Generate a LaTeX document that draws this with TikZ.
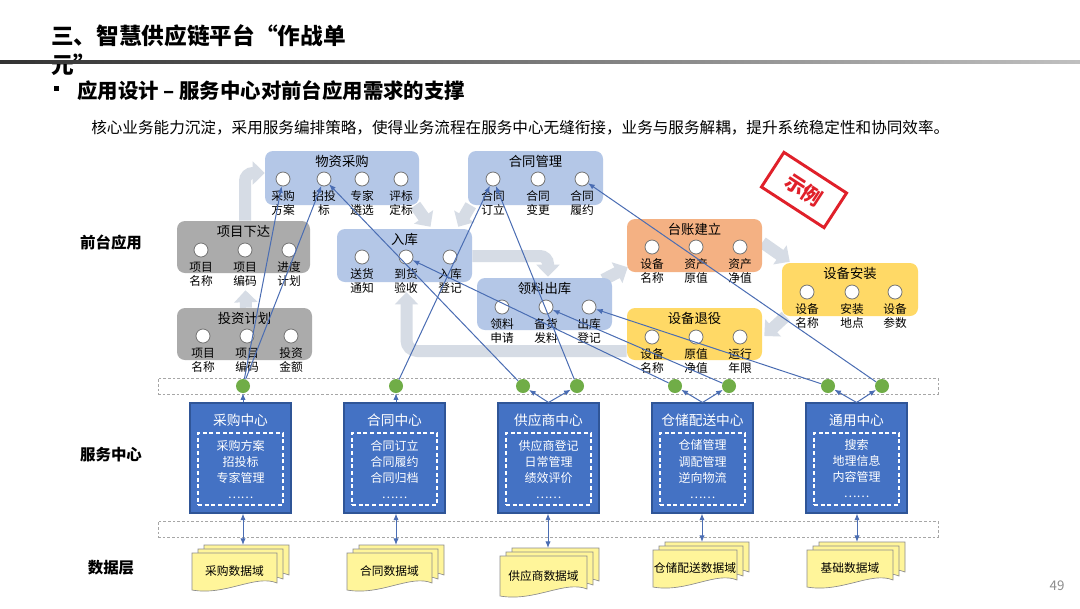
\documentclass[tikz,border=0pt]{standalone}
\usepackage{fontspec}
\setmainfont{Noto Sans CJK SC}
\usetikzlibrary{arrows.meta,calc,fit,backgrounds}

\definecolor{lblue}{HTML}{B4C7E7}
\definecolor{lgray}{HTML}{ABABAB}
\definecolor{lorange}{HTML}{F4B183}
\definecolor{lyellow}{HTML}{FFD966}
\definecolor{sblue}{HTML}{4472C4}
\definecolor{sborder}{HTML}{2F5597}
\definecolor{gdot}{HTML}{70AD47}
\definecolor{bgarr}{HTML}{D6DCE5}
\definecolor{conncol}{HTML}{4A6DB3}
\definecolor{docfill}{HTML}{FFF59A}
\definecolor{stampred}{HTML}{E0202A}

\tikzset{
  appbox/.style={rounded corners=6pt, draw=none, inner sep=0pt},
  boxtitle/.style={font=\fontsize{10}{12}\selectfont, inner sep=0pt},
  itemcirc/.style={circle, draw=black!55, fill=white, line width=0.6pt, minimum size=10.5pt, inner sep=0pt},
  itemlab/.style={font=\fontsize{8.8}{10.5}\selectfont, align=center, inner sep=0pt},
  gdotst/.style={circle, fill=gdot, minimum size=10.5pt, inner sep=0pt},
  bandst/.style={draw=black!35, dash pattern=on 2pt off 1.5pt, line width=0.6pt, inner sep=0pt},
  svcbox/.style={fill=sblue, draw=sborder, line width=0.8pt, inner sep=0pt},
  svcinner/.style={draw=white, dash pattern=on 3pt off 2pt, line width=0.8pt, inner sep=0pt},
  svctitle/.style={text=white, font=\fontsize{10.3}{12}\selectfont, inner sep=0pt},
  svcitems/.style={text=white, align=center, font=\fontsize{9}{12}\selectfont, inner sep=0pt},
  docst/.style={fill=docfill, draw=black!45, line width=0.5pt},
  doctext/.style={font=\fontsize{8.8}{10}\selectfont, inner sep=0pt},
  conn/.style={draw=conncol, line width=0.75pt, -{Latex[length=5pt,width=4pt]}},
  connboth/.style={draw=conncol, line width=0.75pt, {Latex[length=5pt,width=4pt]}-{Latex[length=5pt,width=4pt]}},
  bgarrowst/.style={draw=bgarr, line width=9pt, -{Triangle[length=9pt,width=17pt]}},
  sidelab/.style={font=\fontsize{11.6}{13}\selectfont\bfseries, inner sep=0pt},
}

\newcommand\AppBox[7]{%
  \node[appbox, fill=#6, fit={(#2,#3) (#4,#5)}] (#1) {};
  \node[boxtitle] (#1-t) at ({(#2+#4)/2},#3+10) {#7};
}
\newcommand\AppItem[5]{%
  \node[itemcirc] (#1) at (#2,#3) {};
  \node[itemlab] (#1-l) at (#2,#3+24) {#4\\#5};
}
\newcommand\SvcBox[4]{%
  \node[svcbox, fit={(#2,403) (#2+101,513)}] (#1) {};
  \node[svctitle] (#1-t) at (#2+50.5,420) {#3};
  \node[svcinner, fit={(#2+8,433) (#2+93,505)}] (#1-i) {};
  \node[svcitems] (#1-x) at (#2+50.5,469) {#4};
}
\newcommand\DocSheet[4]{%
  \filldraw[docst] (#1,#2) -- ({#1+#3},#2) -- ({#1+#3},{#2+#4-7})
    .. controls ({#1+0.75*#3},{#2+#4-16}) and ({#1+0.4*#3},{#2+#4+6}) .. (#1,{#2+#4}) -- cycle;
}
\newcommand\DataDoc[6]{%
  \DocSheet{#2+12}{#3-8}{#4}{#5}
  \DocSheet{#2+6}{#3-4}{#4}{#5}
  \DocSheet{#2}{#3}{#4}{#5}
  \node[doctext] (#1) at ({#2+#4/2},{#3+#5/2}) {#6};
}

\begin{document}
\begin{tikzpicture}[x=0.75pt,y=-0.75pt]
\useasboundingbox (0,0) rectangle (1080,608);

% ---------- header ----------
\node[anchor=west, font=\fontsize{17}{20}\selectfont\bfseries, inner sep=0pt] (title1) at (51,36) {三、智慧供应链平台“作战单};
\node[anchor=west, font=\fontsize{17}{20}\selectfont\bfseries, inner sep=0pt] (title2) at (51,65) {元”};
\shade[left color=black!80, right color=black!25] (0,60.5) rectangle (1080,63.5);
\fill (54,86) rectangle (59,91);
\node[anchor=west, font=\fontsize{15.3}{18}\selectfont\bfseries, inner sep=0pt] (subtitle) at (77,91) {应用设计 – 服务中心对前台应用需求的支撑};
\node[anchor=west, font=\fontsize{11.7}{14}\selectfont, inner sep=0pt] (desc) at (91,128) {核心业务能力沉淀，采用服务编排策略，使得业务流程在服务中心无缝衔接，业务与服务解耦，提升系统稳定性和协同效率。};

% ---------- front applications ----------
\AppBox{wzcg}{265}{151}{419}{205}{lblue}{物资采购}
\AppItem{wz1}{283}{179}{采购}{方案}
\AppItem{wz2}{324}{179}{招投}{标}
\AppItem{wz3}{362}{179}{专家}{遴选}
\AppItem{wz4}{401}{179}{评标}{定标}

\AppBox{htgl}{468}{151}{603}{205}{lblue}{合同管理}
\AppItem{ht1}{493}{179}{合同}{订立}
\AppItem{ht2}{538}{179}{合同}{变更}
\AppItem{ht3}{582}{179}{合同}{履约}

\AppBox{xmxd}{177}{221}{310}{273}{lgray}{项目下达}
\AppItem{xm1}{201}{250}{项目}{名称}
\AppItem{xm2}{245}{250}{项目}{编码}
\AppItem{xm3}{289}{250}{进度}{计划}

\AppBox{tzjh}{177}{308}{312}{360}{lgray}{投资计划}
\AppItem{tz1}{203}{336}{项目}{名称}
\AppItem{tz2}{247}{336}{项目}{编码}
\AppItem{tz3}{291}{336}{投资}{金额}

\AppBox{ruku}{337}{229}{472}{282}{lblue}{入库}
\AppItem{rk1}{362}{257}{送货}{通知}
\AppItem{rk2}{406}{257}{到货}{验收}
\AppItem{rk3}{450}{257}{入库}{登记}

\AppBox{llck}{477}{278}{612}{330}{lblue}{领料出库}
\AppItem{ll1}{502}{307}{领料}{申请}
\AppItem{ll2}{546}{307}{备货}{发料}
\AppItem{ll3}{589}{307}{出库}{登记}

\AppBox{tzjl}{627}{219}{762}{272}{lorange}{台账建立}
\AppItem{tj1}{652}{247}{设备}{名称}
\AppItem{tj2}{696}{247}{资产}{原值}
\AppItem{tj3}{740}{247}{资产}{净值}

\AppBox{sbty}{627}{308}{762}{360}{lyellow}{设备退役}
\AppItem{ty1}{652}{337}{设备}{名称}
\AppItem{ty2}{696}{337}{原值}{净值}
\AppItem{ty3}{740}{337}{运行}{年限}

\AppBox{sbaz}{782}{263}{918}{316}{lyellow}{设备安装}
\AppItem{az1}{807}{292}{设备}{名称}
\AppItem{az2}{852}{292}{安装}{地点}
\AppItem{az3}{895}{292}{设备}{参数}

% ---------- background flow arrows ----------
\begin{pgfonlayer}{background}
\fill[white] (0,0) rectangle (1080,608);
\draw[bgarrowst, rounded corners=6pt] (xmxd.north -| 245,0) |- (wzcg.west |- 0,173);
\draw[bgarrowst] (tzjh.north -| 246,0) -- ($(xmxd.south)+(2,17)$);
\draw[bgarrowst] ($(wzcg.south east)+(-4,0)$) -- ($(ruku.north)+(26,-2)$);
\draw[bgarrowst] ($(htgl.south west)+(3,0)$) -- ($(ruku.north east)+(-14,-2)$);
\draw[bgarrowst, rounded corners=6pt] (ruku.east |- 0,256) -| ($(llck.north)+(3.5,-1)$);
\draw[bgarrowst] ($(llck.north east)+(-9,2)$) -- ($(tzjl.south west)+(1,-5)$);
\draw[bgarrowst] ($(tzjl.east)+(0,-3)$) -- ($(sbaz.north west)+(8,-1)$);
\draw[bgarrowst] ($(sbaz.south west)+(4,0)$) -- ($(sbty.east)+(2,2)$);
\draw[bgarrowst, rounded corners=8pt] ($(sbty.west)+(0,17)$) -| ($(ruku.south)+(2,10)$);
\end{pgfonlayer}

% ---------- bands ----------
\node[bandst, fit={(158,378) (938,394)}] (band1) {};
\node[bandst, fit={(158,521) (938,537)}] (band2) {};

% ---------- service centres ----------
\SvcBox{b1}{190}{采购中心}{采购方案\\招投标\\专家管理\\……}
\SvcBox{b2}{344}{合同中心}{合同订立\\合同履约\\合同归档\\……}
\SvcBox{b3}{498}{供应商中心}{供应商登记\\日常管理\\绩效评价\\……}
\SvcBox{b4}{652}{仓储配送中心}{仓储管理\\调配管理\\逆向物流\\……}
\SvcBox{b5}{806}{通用中心}{搜索\\地理信息\\内容管理\\……}

% ---------- data domains ----------
\DataDoc{dd1}{192}{553}{85}{37}{采购数据域}
\DataDoc{dd2}{347}{553}{85}{37}{合同数据域}
\DataDoc{dd3}{500}{556}{87}{40}{供应商数据域}
\DataDoc{dd4}{653}{550}{84}{37}{仓储配送数据域}
\DataDoc{dd5}{807}{550}{86}{37}{基础数据域}
\coordinate (d1) at (243,545);
\coordinate (d2) at (396,545);
\coordinate (d3) at (548,548);
\coordinate (d4) at (702,542);
\coordinate (d5) at (857,542);
\foreach \i in {1,...,5} { \draw[connboth] (b\i.south -| d\i) -- (d\i); }

% ---------- green dots ----------
\node[gdotst] (g1) at (243,386) {};
\node[gdotst] (g2) at (396,386) {};
\node[gdotst] (g3) at (523,386) {};
\node[gdotst] (g4) at (577,386) {};
\node[gdotst] (g5) at (675,386) {};
\node[gdotst] (g6) at (729,386) {};
\node[gdotst] (g7) at (828,386) {};
\node[gdotst] (g8) at (882,386) {};

\draw[conn] (b1.north -| g1) -- (g1);
\draw[conn] (b2.north -| g2) -- (g2);
\draw[conn] (b3.north) -- (g3);
\draw[conn] (b3.north) -- (g4);
\draw[conn] (b4.north) -- (g5);
\draw[conn] (b4.north) -- (g6);
\draw[conn] (b5.north) -- (g7);
\draw[conn] (b5.north) -- (g8);

% ---------- dot to application connectors ----------
\draw[conn] (g1) -- (wz1);
\draw[conn] (g1) -- (wz2);
\draw[conn] (g2) -- (ht1);
\draw[conn] (g3) -- (wz2);
\draw[conn] (g4) -- (ht1);
\draw[conn] (g5) -- (rk2);
\draw[conn] (g6) -- (ll2);
\draw[conn] (g7) -- (ll3);
\draw[conn] (g8) -- (ht3);

% ---------- side labels, stamp, page number ----------
\node[sidelab] (lab1) at (111,243) {前台应用};
\node[sidelab] (lab2) at (111,455) {服务中心};
\node[sidelab] (lab3) at (111,568) {数据层};

\node[draw=stampred, line width=2.2pt, rotate=-33, minimum width=56pt, minimum height=31pt, inner sep=0pt] (stamp) at (804,190) {};
\node[text=stampred, font=\fontsize{15}{15}\selectfont\bfseries, rotate=-33, inner sep=0pt] (stamptext) at (stamp.center) {示例};

\node[font=\fontsize{10}{12}\selectfont, text=black!45, inner sep=0pt] (pgno) at (1057,586) {49};
\end{tikzpicture}
\end{document}
